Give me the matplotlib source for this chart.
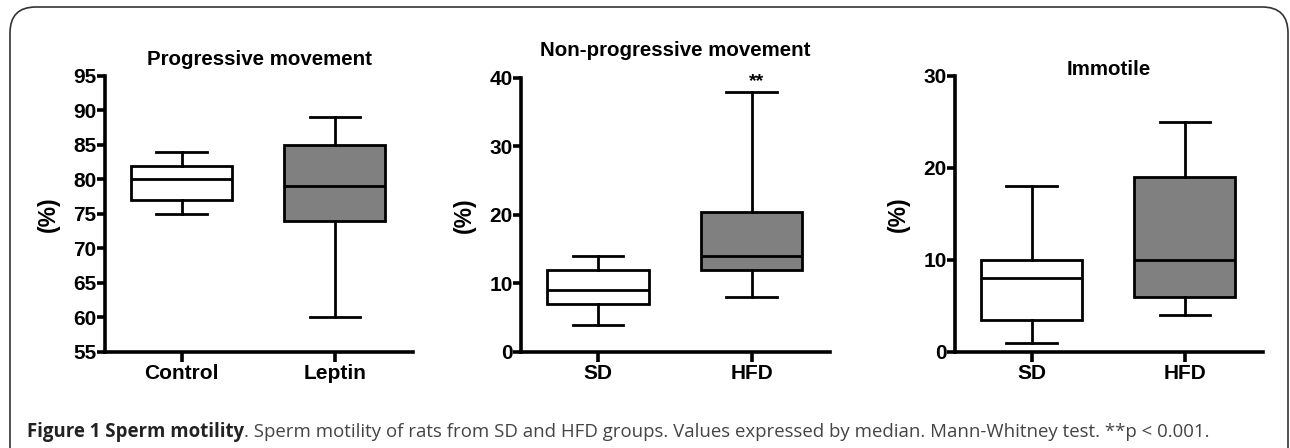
import matplotlib
matplotlib.use("Agg")
import matplotlib.pyplot as plt
from matplotlib.patches import FancyBboxPatch

matplotlib.rcParams['font.family'] = 'Liberation Sans'

# Data: whisker low, Q1, median, Q3, whisker high
groups_1 = ['Control', 'Leptin']
prog_control = [75, 77, 80, 82, 84]
prog_leptin = [60, 74, 79, 85, 89]

groups_2 = ['SD', 'HFD']
nonprog_sd = [4, 7, 9, 12, 14]
nonprog_hfd = [8, 12, 14, 20.5, 38]

immot_sd = [1, 3.5, 8, 10, 18]
immot_hfd = [4, 6, 10, 19, 25]

titles = ['Progressive movement', 'Non-progressive movement', 'Immotile']
yticks_1 = [55, 60, 65, 70, 75, 80, 85, 90, 95]
yticks_2 = [0, 10, 20, 30, 40]
yticks_3 = [0, 10, 20, 30]

box_colors = ['white', '#808080']


def stats(vals, label):
    lo, q1, med, q3, hi = vals
    return dict(whislo=lo, q1=q1, med=med, q3=q3, whishi=hi, label=label, fliers=[])


fig = plt.figure(figsize=(12.9, 4.48), dpi=100)

# rounded frame (open at the bottom, cropped)
frame = FancyBboxPatch((10 / 1290, -0.1), 1278 / 1290, 1 - 7 / 448 + 0.1,
                       boxstyle='round,pad=0,rounding_size=0.02',
                       transform=fig.transFigure, fill=False,
                       edgecolor='#333333', linewidth=1.2, mutation_aspect=2.9)
fig.patches.append(frame)

panels = [
    ([0.0814, 0.2143, 0.2388, 0.6161], groups_1, [prog_control, prog_leptin], (55, 95), yticks_1),
    ([0.4039, 0.2143, 0.2395, 0.6116], groups_2, [nonprog_sd, nonprog_hfd], (0, 40), yticks_2),
    ([0.7403, 0.2143, 0.2388, 0.6161], groups_2, [immot_sd, immot_hfd], (0, 30), yticks_3),
]

axes = []
for pos, labels, series, ylim, yt in panels:
    ax = fig.add_axes(pos)
    bxp = ax.bxp([stats(v, l) for v, l in zip(series, labels)], positions=[1, 2],
                 widths=0.66, patch_artist=True, showfliers=False,
                 boxprops=dict(linewidth=2.0, edgecolor='black'),
                 medianprops=dict(color='black', linewidth=2.0),
                 whiskerprops=dict(color='black', linewidth=2.0),
                 capprops=dict(color='black', linewidth=2.0))
    for patch, c in zip(bxp['boxes'], box_colors):
        patch.set_facecolor(c)
    ax.set_xlim(0.5, 2.51)
    ax.set_ylim(*ylim)
    ax.set_yticks(yt)
    ax.spines['top'].set_visible(False)
    ax.spines['right'].set_visible(False)
    ax.spines['left'].set_linewidth(2.6)
    ax.spines['bottom'].set_linewidth(2.6)
    ax.tick_params(axis='both', direction='out', length=6, width=2.6,
                   labelsize=15, pad=0)
    ax.tick_params(axis='x', length=7, pad=2)
    for t in ax.get_xticklabels() + ax.get_yticklabels():
        t.set_fontweight('bold')
    ax.set_ylabel('(%)', fontsize=16.5, fontweight='bold')
    ax.yaxis.set_label_coords(-0.145, 0.5)
    ax.patch.set_alpha(0)
    axes.append(ax)

# titles: offsets above the top of each axes, in axes fraction
title_y = [1.058, 1.102, 1.022]
for ax, t, ty in zip(axes, titles, title_y):
    ax.text(0.5, ty, t, transform=ax.transAxes, ha='center', va='center',
            fontsize=14.8, fontweight='bold')
axes[1].text(2.03, 38.3, '**', ha='center', va='bottom', fontsize=14, fontweight='bold')

# caption
cap_y = 1 - 437 / 448
bold = fig.text(27 / 1290, cap_y, 'Figure 1 Sperm motility', fontsize=13.4,
                fontweight='bold', family='Open Sans', color='#222222', va='baseline')
fig.canvas.draw()
bb = bold.get_window_extent()
fig.text(bb.x1 / fig.bbox.width, cap_y,
         '. Sperm motility of rats from SD and HFD groups. Values expressed by median. '
         'Mann-Whitney test. **p < 0.001.',
         fontsize=13.4, family='Open Sans', color='#444444', va='baseline')

fig.savefig('out.png', dpi=100)
